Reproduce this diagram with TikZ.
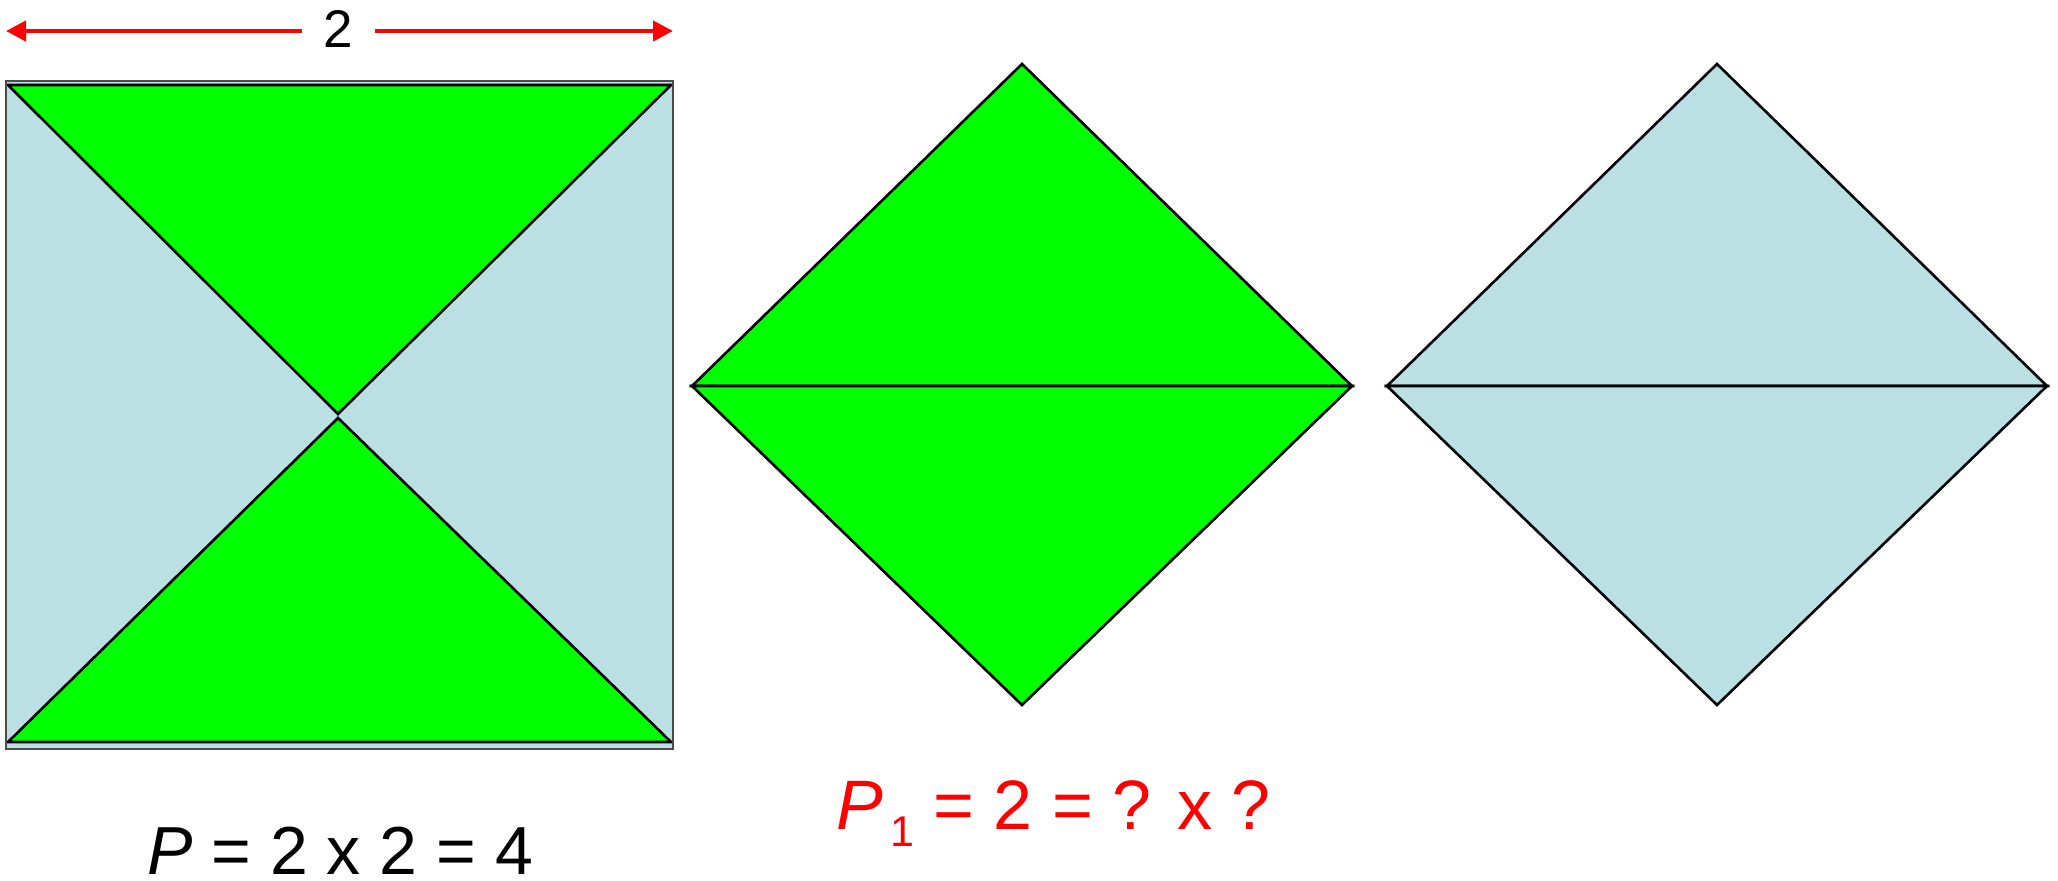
\documentclass[tikz,border=0pt]{standalone}
\usepackage{fontspec}
\setmainfont{Liberation Sans}
\usetikzlibrary{arrows.meta}
\definecolor{lblue}{HTML}{BBE0E3}
\definecolor{pgreen}{HTML}{00FF00}
\definecolor{pred}{HTML}{FF0000}
\begin{document}
\begin{tikzpicture}[x=0.5pt,y=-0.5pt,
  outl/.style={draw=black,line width=1.3pt,line join=miter},
  gtri/.style={outl,fill=pgreen},
  btri/.style={outl,fill=lblue},
  dimline/.style={draw=pred,line width=2.2pt,-{Triangle[length=10pt,width=10pt]}},
  bigtext/.style={font=\fontsize{34}{40}\selectfont,inner sep=0pt},
  redtext/.style={font=\fontsize{35}{42}\selectfont,text=pred,inner sep=0pt}]
\useasboundingbox (0,0) rectangle (2058,880);
% dimension arrow
\node[font=\fontsize{26.5}{32}\selectfont,inner sep=0pt,anchor=base] (two) at (338,47) {2};
\coordinate (gL) at (302,31);
\coordinate (gR) at (375,31);
\coordinate (aL) at (6,31);
\coordinate (aR) at (673,31);
\draw[dimline] (gL) -- (aL);
\draw[dimline] (gR) -- (aR);
% square
\fill[lblue] (6,81) rectangle (673,749);
\draw[gtri] (8,85) -- (671,85) -- (338,414) -- cycle;
\draw[gtri] (8,742) -- (671,742) -- (338,418) -- cycle;
\draw[draw=black!70,line width=1.2pt] (6,81) rectangle (673,749);
% middle diamond
\draw[gtri] (692,386) -- (1022,64) -- (1352,386) -- cycle;
\draw[gtri] (692,386) -- (1022,705) -- (1352,386) -- cycle;
% right diamond
\draw[btri] (1387,386) -- (1717,64) -- (2047,386) -- cycle;
\draw[btri] (1387,386) -- (1717,705) -- (2047,386) -- cycle;
% formulas
\node[bigtext,anchor=base west] (f1) at (147,874) {\textit{P} = 2 x 2 = 4};
\node[redtext,anchor=base west] (f2) at (836,829) {\textit{P}\raisebox{-8.5pt}{\fontsize{21.5}{26}\selectfont\,1} = 2 = ? x ?};
\end{tikzpicture}
\end{document}
